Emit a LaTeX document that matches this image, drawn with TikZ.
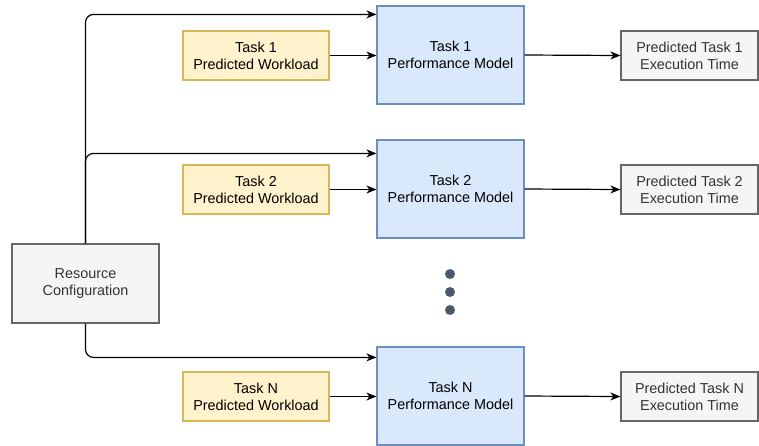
\documentclass[tikz,border=0pt]{standalone}
\usepackage{fontspec}
\setmainfont{Liberation Sans}
\usetikzlibrary{arrows.meta}
\definecolor{wlfill}{HTML}{FFF2CC}
\definecolor{wldraw}{HTML}{D6B656}
\definecolor{pmfill}{HTML}{DAE8FC}
\definecolor{pmdraw}{HTML}{6C8EBF}
\definecolor{gyfill}{HTML}{F5F5F5}
\definecolor{gydraw}{HTML}{666666}
\definecolor{gytext}{HTML}{333333}
\definecolor{dotcol}{HTML}{4B576B}
\begin{document}
\begin{tikzpicture}[x=1pt,y=-1pt,
  box/.style={draw, line width=1.2pt, align=center, inner sep=0pt,
    font=\fontsize{14.4}{17}\selectfont},
  workload/.style={box, fill=wlfill, draw=wldraw, minimum width=146pt, minimum height=49pt},
  perfmodel/.style={box, fill=pmfill, draw=pmdraw, minimum width=147pt, minimum height=98pt},
  result/.style={box, fill=gyfill, draw=gydraw, text=gytext, minimum width=137pt, minimum height=49pt},
  arr/.style={line width=1.2pt, -{Stealth[length=10pt,width=8pt,inset=3pt]}},
  dot/.style={circle, fill=dotcol, inner sep=0pt, minimum size=10pt}]
\useasboundingbox (0,0) rectangle (759,445);

% resource configuration
\node[result, minimum width=147pt, minimum height=79pt] (res) at (85.5,283.5) {Resource\\Configuration};

% task rows
\node[workload] (w1) at (256,55.5) {Task 1\\Predicted Workload};
\node[workload] (w2) at (256,189.5) {Task 2\\Predicted Workload};
\node[workload] (wn) at (256,396.5) {Task N\\Predicted Workload};

\node[perfmodel] (p1) at (450.5,55) {Task 1\\Performance Model};
\node[perfmodel] (p2) at (450.5,189) {Task 2\\Performance Model};
\node[perfmodel] (pn) at (450.5,396) {Task N\\Performance Model};

\node[result] (e1) at (689.5,55.5) {Predicted Task 1\\Execution Time};
\node[result] (e2) at (689.5,189.5) {Predicted Task 2\\Execution Time};
\node[result] (en) at (689.5,396.5) {Predicted Task N\\Execution Time};

% ellipsis between the rows
\node[dot] (d1) at (450,274) {};
\node[dot] (d2) at (450,292) {};
\node[dot] (d3) at (450,310) {};

% resource configuration feeds every model
\draw[arr, rounded corners=8pt] (res.north) |- ([yshift=-9pt]p1.north west);
\draw[arr, rounded corners=8pt] (res.north) |- ([yshift=-14pt]p2.north west);
\draw[arr, rounded corners=8pt] (res.south) |- ([yshift=-11pt]pn.north west);

% workload -> model -> execution time
\draw[arr] (w1.east) -- (w1.east -| p1.west);
\draw[arr] (w2.east) -- (w2.east -| p2.west);
\draw[arr] (wn.east) -- (wn.east -| pn.west);
\draw[arr] (p1.east) -- (e1.west);
\draw[arr] (p2.east) -- (e2.west);
\draw[arr] (pn.east) -- (en.west);
\end{tikzpicture}
\end{document}
